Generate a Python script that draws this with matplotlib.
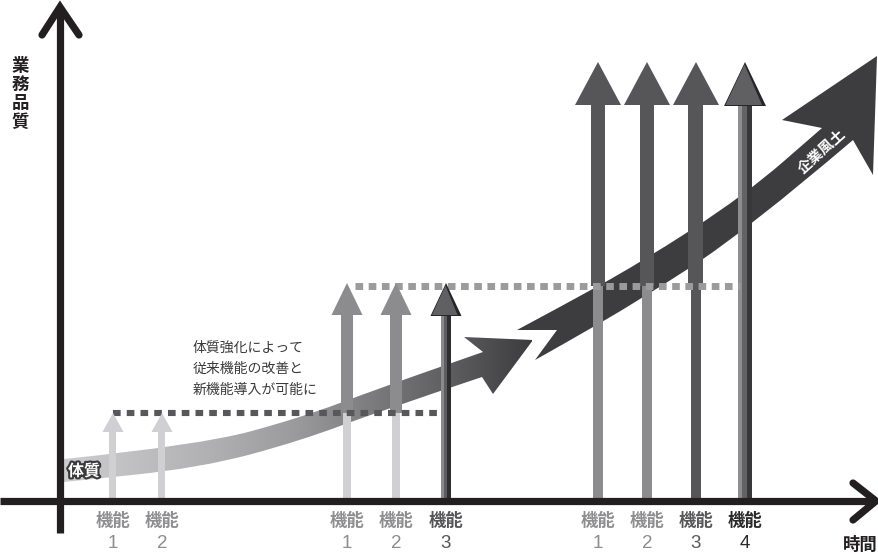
import matplotlib
matplotlib.use("Agg")
import matplotlib.pyplot as plt
import matplotlib.patheffects as pe
from matplotlib.path import Path
from matplotlib.patches import PathPatch, Polygon, Rectangle
from matplotlib.colors import LinearSegmentedColormap
import numpy as np

plt.rcParams['font.family'] = ['Noto Sans CJK JP', 'DejaVu Sans']

# --- データ (時間 × 業務品質, 原点 = 軸の交点) ---
feature_time_1 = [53, 102]
feature_time_2 = [287, 336, 386]
feature_time_3 = [538, 587, 636, 685]
feature_no_1 = ['1', '2']
feature_no_2 = ['1', '2', '3']
feature_no_3 = ['1', '2', '3', '4']
head_tip = [88, 218, 439]       # 各段階で到達する品質
head_base = [69, 186, 396]
level_line = [88, 215]          # 点線の水準
level_line_end = [377, 680]

note_lines = ['体質強化によって', '従来機能の改善と', '新機能導入が可能に']

# 体質 (下の曲線矢印) の上端・下端と矢じり
body_top = [(4, 42), (140, 56), (240, 83), (320, 113), (423, 149)]
body_bottom = [(4, 19), (140, 33), (240, 60), (320, 90), (422, 124)]
body_head = [(404, 164), (473, 161), (433, 107)]

# 企業風土 (上の曲線矢印)
culture_tail = [(457, 171), (497, 171), (475, 141)]
culture_top = [(457, 171), (500, 194), (580, 238), (685, 306), (762, 373)]
culture_bottom = [(475, 141), (500, 155), (580, 201), (685, 269), (793, 361)]
culture_head = [(722, 381), (817, 445), (813, 326)]

LIGHT, MEDIUM, DARK = '#d0d0d2', '#8c8c8e', '#565658'
AXIS = '#231f20'


def smooth(points):
    """点列をなめらかな2次ベジェで結ぶ"""
    verts = [points[0]]
    codes = [Path.LINETO]
    for i in range(1, len(points) - 1):
        mid = ((points[i][0] + points[i + 1][0]) / 2, (points[i][1] + points[i + 1][1]) / 2)
        verts += [points[i], mid]
        codes += [Path.CURVE3, Path.CURVE3]
    verts.append(points[-1])
    codes.append(Path.LINETO)
    return verts, codes


def band_path(top, head, bottom, tail=None):
    v1, c1 = smooth(top)
    v2, c2 = smooth(bottom[::-1])
    verts = v1 + list(head) + v2
    codes = c1 + [Path.LINETO] * len(head) + c2
    if tail is not None:
        verts += [tail[1]]
        codes += [Path.LINETO]
    codes[0] = Path.MOVETO
    verts.append(verts[0])
    codes.append(Path.CLOSEPOLY)
    return Path(verts, codes)


def head(ax, t, tip, base, w, color, z=4):
    ax.add_patch(Polygon([(t - w / 2, base), (t, tip), (t + w / 2, base)],
                         closed=True, fc=color, ec='none', zorder=z))


def shaft(ax, t, q0, q1, w, color, z=3):
    ax.add_patch(Rectangle((t - w / 2, q0), w, q1 - q0, fc=color, ec='none', zorder=z))


def shaded_arrow(ax, t, tip, base, sw, hw, strips):
    x = t - sw / 2
    for width, color in strips:
        ax.add_patch(Rectangle((x, 0), width, base, fc=color, ec='none', zorder=3))
        x += width
    head(ax, t, tip, base - 1, hw, '#262628')
    ax.add_patch(Polygon([(t - hw / 2 + 1.5, base), (t - 0.5, tip - 2.5), (t + hw / 2 - 4, base)],
                         closed=True, fc='#606062', ec='none', zorder=4))


fig = plt.figure(figsize=(8.79, 5.6), dpi=100)
ax = fig.add_axes([0, 0, 1, 1])

# 体質の矢印 (グラデーション)
body = PathPatch(band_path(body_top, body_head, body_bottom), fc='none', ec='none', zorder=1)
ax.add_patch(body)
cmap = LinearSegmentedColormap.from_list('body', [(0, '#cdcdcf'), (0.3, '#b2b2b4'), (0.5, '#9a9a9c'),
                                                  (0.7, '#747476'), (0.88, '#545456'), (1, '#3c3c3e')])
grad = np.linspace(0, 1, 256).reshape(1, -1)
im = ax.imshow(grad, cmap=cmap, extent=(4, 472, 15, 170), aspect='auto', zorder=1, interpolation='bilinear')
im.set_clip_path(body)

# 企業風土の矢印
ax.add_patch(PathPatch(band_path(culture_top, culture_head, culture_bottom, culture_tail),
                       fc='#3d3d3f', ec='none', zorder=1))

# 機能の矢印 1段目
for t in feature_time_1:
    shaft(ax, t, 0, head_base[0], 7, LIGHT)
    head(ax, t, head_tip[0], head_base[0], 21, LIGHT)

# 2段目
for t in feature_time_2[:2]:
    shaft(ax, t, 0, level_line[0], 8, LIGHT)
    shaft(ax, t, level_line[0], head_base[1], 12, MEDIUM)
    head(ax, t, head_tip[1], head_base[1], 31, MEDIUM)
shaded_arrow(ax, feature_time_2[2], head_tip[1], head_base[1], 10, 31,
             [(3, '#8a8a8c'), (3, '#5e5e60'), (4, '#2e2e30')])

# 3段目
for t in feature_time_3[:2]:
    shaft(ax, t, 0, level_line[1], 10, MEDIUM)
    shaft(ax, t, level_line[1], head_base[2], 14, DARK)
    head(ax, t, head_tip[2], head_base[2], 46, DARK)
shaft(ax, feature_time_3[2], 0, level_line[1], 10, DARK)
shaft(ax, feature_time_3[2], level_line[1], head_base[2], 15, DARK)
head(ax, feature_time_3[2], head_tip[2], head_base[2], 46, DARK)
shaded_arrow(ax, feature_time_3[3], head_tip[2], head_base[2], 14, 42,
             [(4, '#8e8e90'), (5, '#636365'), (5, '#38383a')])

# 点線 (品質水準)
ax.plot([feature_time_1[0], level_line_end[0]], [level_line[0]] * 2, color='#58585a', lw=4.4,
        ls=(0, (1.25, 1.0)), solid_capstyle='butt', dash_capstyle='butt', zorder=3.5)
ax.plot([feature_time_2[0] + 8, level_line_end[1]], [level_line[1]] * 2, color='#9b9b9d', lw=5,
        ls=(0, (1.1, 0.8)), solid_capstyle='butt', dash_capstyle='butt', zorder=3.5)

# 軸
ax.plot([0, 0], [-32, 490], color=AXIS, lw=5.2, solid_capstyle='butt', zorder=6)
ax.plot([-18, 0, 19], [466, 494, 466], color=AXIS, lw=5.2, solid_capstyle='round',
        solid_joinstyle='miter', zorder=6)
ax.plot([-60, 812], [0, 0], color=AXIS, lw=5.2, solid_capstyle='butt', zorder=6)
ax.plot([793, 816, 793], [18, 0, -19], color=AXIS, lw=5.2, solid_capstyle='round',
        solid_joinstyle='miter', zorder=6)

# 軸ラベル
ax.text(-40, 407, '\n'.join('業務品質'), fontsize=12.5, fontweight='bold', color=AXIS,
        ha='center', va='center', linespacing=1.05)
ax.text(800, -44, '時間', fontsize=12.5, fontweight='bold', color=AXIS, ha='center', va='center')

# 機能ラベル
label_colors = [['#8e8e90'] * 2, ['#8e8e90', '#8e8e90', '#555557'],
                ['#8e8e90', '#8e8e90', '#58585a', '#2a2a2a']]
for times, nos, cols in zip([feature_time_1, feature_time_2, feature_time_3],
                            [feature_no_1, feature_no_2, feature_no_3], label_colors):
    for t, n, c in zip(times, nos, cols):
        ax.text(t, -20, '機能', fontsize=12.5, fontweight='bold', color=c, ha='center', va='center')
        ax.text(t, -42, n, fontsize=13.5, color=c, ha='center', va='center', family='Liberation Sans')

# 注記
for i, line in enumerate(note_lines):
    ax.text(133, 153 - i * 21, line, fontsize=10, color='#3a3a3a', ha='left', va='center')

ax.text(24, 30, '体質', fontsize=11.5, fontweight='bold', color='white', ha='center', va='center',
        zorder=7, path_effects=[pe.withStroke(linewidth=3, foreground='#3a3a3a')])
ax.text(761, 350, '企業風土', fontsize=10.5, fontweight='bold', color='white', ha='center',
        va='center', rotation=42, rotation_mode='anchor', zorder=7)

ax.set_xlim(-60, 819)
ax.set_ylim(-59, 501)
ax.axis('off')
fig.savefig('out.png', dpi=100)
